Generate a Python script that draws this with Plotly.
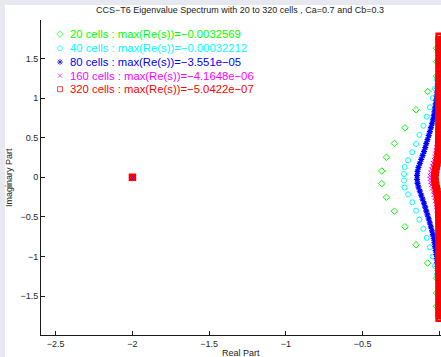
import plotly.graph_objects as go

# ---------------- data (eigenvalues) ----------------
green_re = [-2.0,
            -0.375, -0.345, -0.293, -0.224, -0.152, -0.076, -0.018, -0.018, -0.018,
            -0.375, -0.345, -0.293, -0.224, -0.152, -0.076, -0.018, -0.018, -0.018]
green_im = [0.0,
            0.080, 0.252, 0.427, 0.624, 0.852, 1.082, 1.276, 1.460, 1.628,
            -0.080, -0.252, -0.427, -0.624, -0.852, -1.082, -1.276, -1.460, -1.628]

cyan_re = [-2.0,
           -0.230, -0.226, -0.204, -0.176, -0.152, -0.130, -0.104, -0.082, -0.061, -0.043, -0.028, -0.015,
           -0.230, -0.226, -0.204, -0.176, -0.152, -0.130, -0.104, -0.082, -0.061, -0.043, -0.028, -0.015]
cyan_im = [0.0,
           0.040, 0.130, 0.215, 0.315, 0.420, 0.535, 0.650, 0.765, 0.883, 1.000, 1.120, 1.230,
           -0.040, -0.130, -0.215, -0.315, -0.420, -0.535, -0.650, -0.765, -0.883, -1.000, -1.120, -1.230]

blue_re = [-2.0,
           -0.145, -0.142, -0.136, -0.127, -0.118, -0.109, -0.100, -0.092, -0.085, -0.077,
           -0.069, -0.062, -0.055, -0.048, -0.042, -0.037, -0.032, -0.028, -0.024, -0.020,
           -0.017, -0.014, -0.012, -0.010, -0.008, -0.006,
           -0.145, -0.142, -0.136, -0.127, -0.118, -0.109, -0.100, -0.092, -0.085, -0.077,
           -0.069, -0.062, -0.055, -0.048, -0.042, -0.037, -0.032, -0.028, -0.024, -0.020,
           -0.017, -0.014, -0.012, -0.010, -0.008, -0.006]
blue_im = [0.0,
           0.025, 0.075, 0.125, 0.175, 0.225, 0.275, 0.325, 0.375, 0.425, 0.475,
           0.525, 0.575, 0.625, 0.675, 0.725, 0.775, 0.825, 0.875, 0.925, 0.975,
           1.025, 1.075, 1.125, 1.175, 1.225, 1.275,
           -0.025, -0.075, -0.125, -0.175, -0.225, -0.275, -0.325, -0.375, -0.425, -0.475,
           -0.525, -0.575, -0.625, -0.675, -0.725, -0.775, -0.825, -0.875, -0.925, -0.975,
           -1.025, -1.075, -1.125, -1.175, -1.225, -1.275]

magenta_re = [-2.0,
              -0.062, -0.058, -0.053, -0.047, -0.041, -0.036, -0.031, -0.027, -0.023, -0.020,
              -0.017, -0.014, -0.012, -0.010, -0.008, -0.006, -0.005, -0.004, -0.003, -0.002,
              -0.002, -0.001, -0.001, -0.001, -0.001, -0.001, -0.001, -0.001,
              -0.062, -0.058, -0.053, -0.047, -0.041, -0.036, -0.031, -0.027, -0.023, -0.020,
              -0.017, -0.014, -0.012, -0.010, -0.008, -0.006, -0.005, -0.004, -0.003, -0.002,
              -0.002, -0.001, -0.001, -0.001, -0.001, -0.001, -0.001, -0.001]
magenta_im = [0.0,
              0.02, 0.06, 0.10, 0.14, 0.18, 0.22, 0.26, 0.30, 0.34, 0.38,
              0.42, 0.46, 0.50, 0.55, 0.60, 0.65, 0.70, 0.75, 0.80, 0.90,
              1.00, 1.10, 1.20, 1.30, 1.40, 1.50, 1.60, 1.70,
              -0.02, -0.06, -0.10, -0.14, -0.18, -0.22, -0.26, -0.30, -0.34, -0.38,
              -0.42, -0.46, -0.50, -0.55, -0.60, -0.65, -0.70, -0.75, -0.80, -0.90,
              -1.00, -1.10, -1.20, -1.30, -1.40, -1.50, -1.60, -1.70]

red_re = [-2.0,
          -0.030, -0.027, -0.023, -0.019, -0.015, -0.011, -0.008, -0.006, -0.005, -0.004,
          -0.003, -0.003, -0.002, -0.002, -0.001, -0.001, -0.001, -0.001, -0.001, -0.001,
          -0.001, -0.001, -0.001, -0.001, -0.001, -0.001, -0.001, -0.001, -0.001, -0.001,
          -0.001, -0.001, -0.001, -0.001, -0.001, -0.001, -0.001, -0.001, -0.001, -0.001,
          -0.001, -0.001, -0.001, -0.001, -0.001,
          -0.030, -0.027, -0.023, -0.019, -0.015, -0.011, -0.008, -0.006, -0.005, -0.004,
          -0.003, -0.003, -0.002, -0.002, -0.001, -0.001, -0.001, -0.001, -0.001, -0.001,
          -0.001, -0.001, -0.001, -0.001, -0.001, -0.001, -0.001, -0.001, -0.001, -0.001,
          -0.001, -0.001, -0.001, -0.001, -0.001, -0.001, -0.001, -0.001, -0.001, -0.001,
          -0.001, -0.001, -0.001, -0.001, -0.001]
red_im = [0.0,
          0.02, 0.06, 0.10, 0.14, 0.18, 0.22, 0.26, 0.30, 0.34, 0.38,
          0.42, 0.46, 0.50, 0.54, 0.58, 0.62, 0.66, 0.70, 0.74, 0.78,
          0.82, 0.86, 0.90, 0.94, 0.98, 1.02, 1.06, 1.10, 1.14, 1.18,
          1.22, 1.26, 1.30, 1.34, 1.38, 1.42, 1.46, 1.50, 1.54, 1.58,
          1.62, 1.66, 1.70, 1.74, 1.78,
          -0.02, -0.06, -0.10, -0.14, -0.18, -0.22, -0.26, -0.30, -0.34, -0.38,
          -0.42, -0.46, -0.50, -0.54, -0.58, -0.62, -0.66, -0.70, -0.74, -0.78,
          -0.82, -0.86, -0.90, -0.94, -0.98, -1.02, -1.06, -1.10, -1.14, -1.18,
          -1.22, -1.26, -1.30, -1.34, -1.38, -1.42, -1.46, -1.50, -1.54, -1.58,
          -1.62, -1.66, -1.70, -1.74, -1.78]

legend_labels = [
    "20 cells : max(Re(s))=\u22120.0032569",
    "40 cells : max(Re(s))=\u22120.00032212",
    "80 cells : max(Re(s))=\u22123.551e\u221205",
    "160 cells : max(Re(s))=\u22124.1648e\u221206",
    "320 cells : max(Re(s))=\u22125.0422e\u221207",
]
x_ticks = [-2.5, -2, -1.5, -1, -0.5, 0]
y_ticks = [-1.5, -1, -0.5, 0, 0.5, 1, 1.5]

title_text = "CCS\u2212T6 Eigenvalue Spectrum with 20 to 320 cells , Ca=0.7 and Cb=0.3"

# ---------------- styles ----------------
FONT = "Liberation Sans, Arial, Helvetica, sans-serif"
colors = ["#00ff00", "#00ffff", "#0000ff", "#ff00ff", "#ff0000"]
symbols = ["diamond-open", "circle-open", "asterisk-open", "x-thin-open", "square-open"]
sizes = [5, 5, 5, 4, 5]
widths = [1, 1, 1.3, 1, 2.5]

series = [(green_re, green_im), (cyan_re, cyan_im), (blue_re, blue_im),
          (magenta_re, magenta_im), (red_re, red_im)]

fig = go.Figure()
for (re_, im_), c, s, sz, w in zip(series, colors, symbols, sizes, widths):
    fig.add_trace(go.Scatter(
        x=re_, y=im_, mode="markers", showlegend=False, hoverinfo="skip",
        marker=dict(symbol=s, size=sz, color=c, line=dict(color=c, width=w)),
    ))

# legend symbols on an overlay axis expressed in pixel units
W, H = 441, 357
ML, MR, MT, MB = 41, 0, 20, 22
leg_sym_x = 60
leg_text_x = 68
leg_rows = [34, 48.2, 62, 75.6, 89.2]
fig.add_trace(go.Scatter(
    x=[leg_sym_x] * 5, y=leg_rows, xaxis="x2", yaxis="y2", mode="markers",
    showlegend=False, hoverinfo="skip", cliponaxis=False,
    marker=dict(symbol=symbols, size=[5, 5, 5, 4, 5], color=colors,
                line=dict(color=colors, width=1)),
))

annotations = []
for lab, c, yr in zip(legend_labels, colors, leg_rows):
    annotations.append(dict(
        x=leg_text_x, y=yr, xref="x2", yref="y2", text=lab, showarrow=False,
        xanchor="left", yanchor="middle", font=dict(family=FONT, size=11.3, color=c),
    ))

def px_x(p):
    return (p - ML) / (W - ML - MR)

def px_y(p):
    return (H - MB - p) / (H - MT - MB)

annotations += [
    dict(x=px_x(240), y=px_y(10), xref="paper", yref="paper", text=title_text,
         showarrow=False, xanchor="center", yanchor="middle",
         font=dict(family=FONT, size=9, color="#222222")),
    dict(x=px_x(241), y=px_y(352.5), xref="paper", yref="paper", text="Real Part",
         showarrow=False, xanchor="center", yanchor="middle",
         font=dict(family=FONT, size=9, color="#222222")),
    dict(x=px_x(9), y=px_y(178), xref="paper", yref="paper", text="Imaginary Part",
         showarrow=False, xanchor="center", yanchor="middle", textangle=-90,
         font=dict(family=FONT, size=9, color="#222222")),
]

lav = "#e8e8f0"
shapes = [
    dict(type="rect", xref="paper", yref="paper", x0=px_x(0), x1=px_x(5),
         y0=px_y(H), y1=px_y(0), fillcolor=lav, line=dict(width=0)),
    dict(type="rect", xref="paper", yref="paper", x0=px_x(0), x1=px_x(W),
         y0=px_y(5), y1=px_y(0), fillcolor=lav, line=dict(width=0)),
]

axis_common = dict(
    showgrid=False, zeroline=False, showline=True, linecolor="#1a1a1a", linewidth=1,
    ticks="inside", ticklen=4, tickcolor="#1a1a1a", tickwidth=1,
    tickfont=dict(family=FONT, size=9, color="#262626"), mirror=False,
)

fig.update_layout(
    width=W, height=H, autosize=False,
    margin=dict(l=ML, r=MR, t=MT, b=MB, pad=0),
    paper_bgcolor="white", plot_bgcolor="white",
    xaxis=dict(range=[-2.596, 0.011], tickvals=x_ticks, **axis_common),
    yaxis=dict(range=[-1.99, 1.985], tickvals=y_ticks, **axis_common),
    xaxis2=dict(range=[ML, W - MR], overlaying="x", visible=False, fixedrange=True),
    yaxis2=dict(range=[H - MB, MT], overlaying="y", visible=False, fixedrange=True),
    annotations=annotations, shapes=shapes, showlegend=False,
)

fig.write_html("out.html")
